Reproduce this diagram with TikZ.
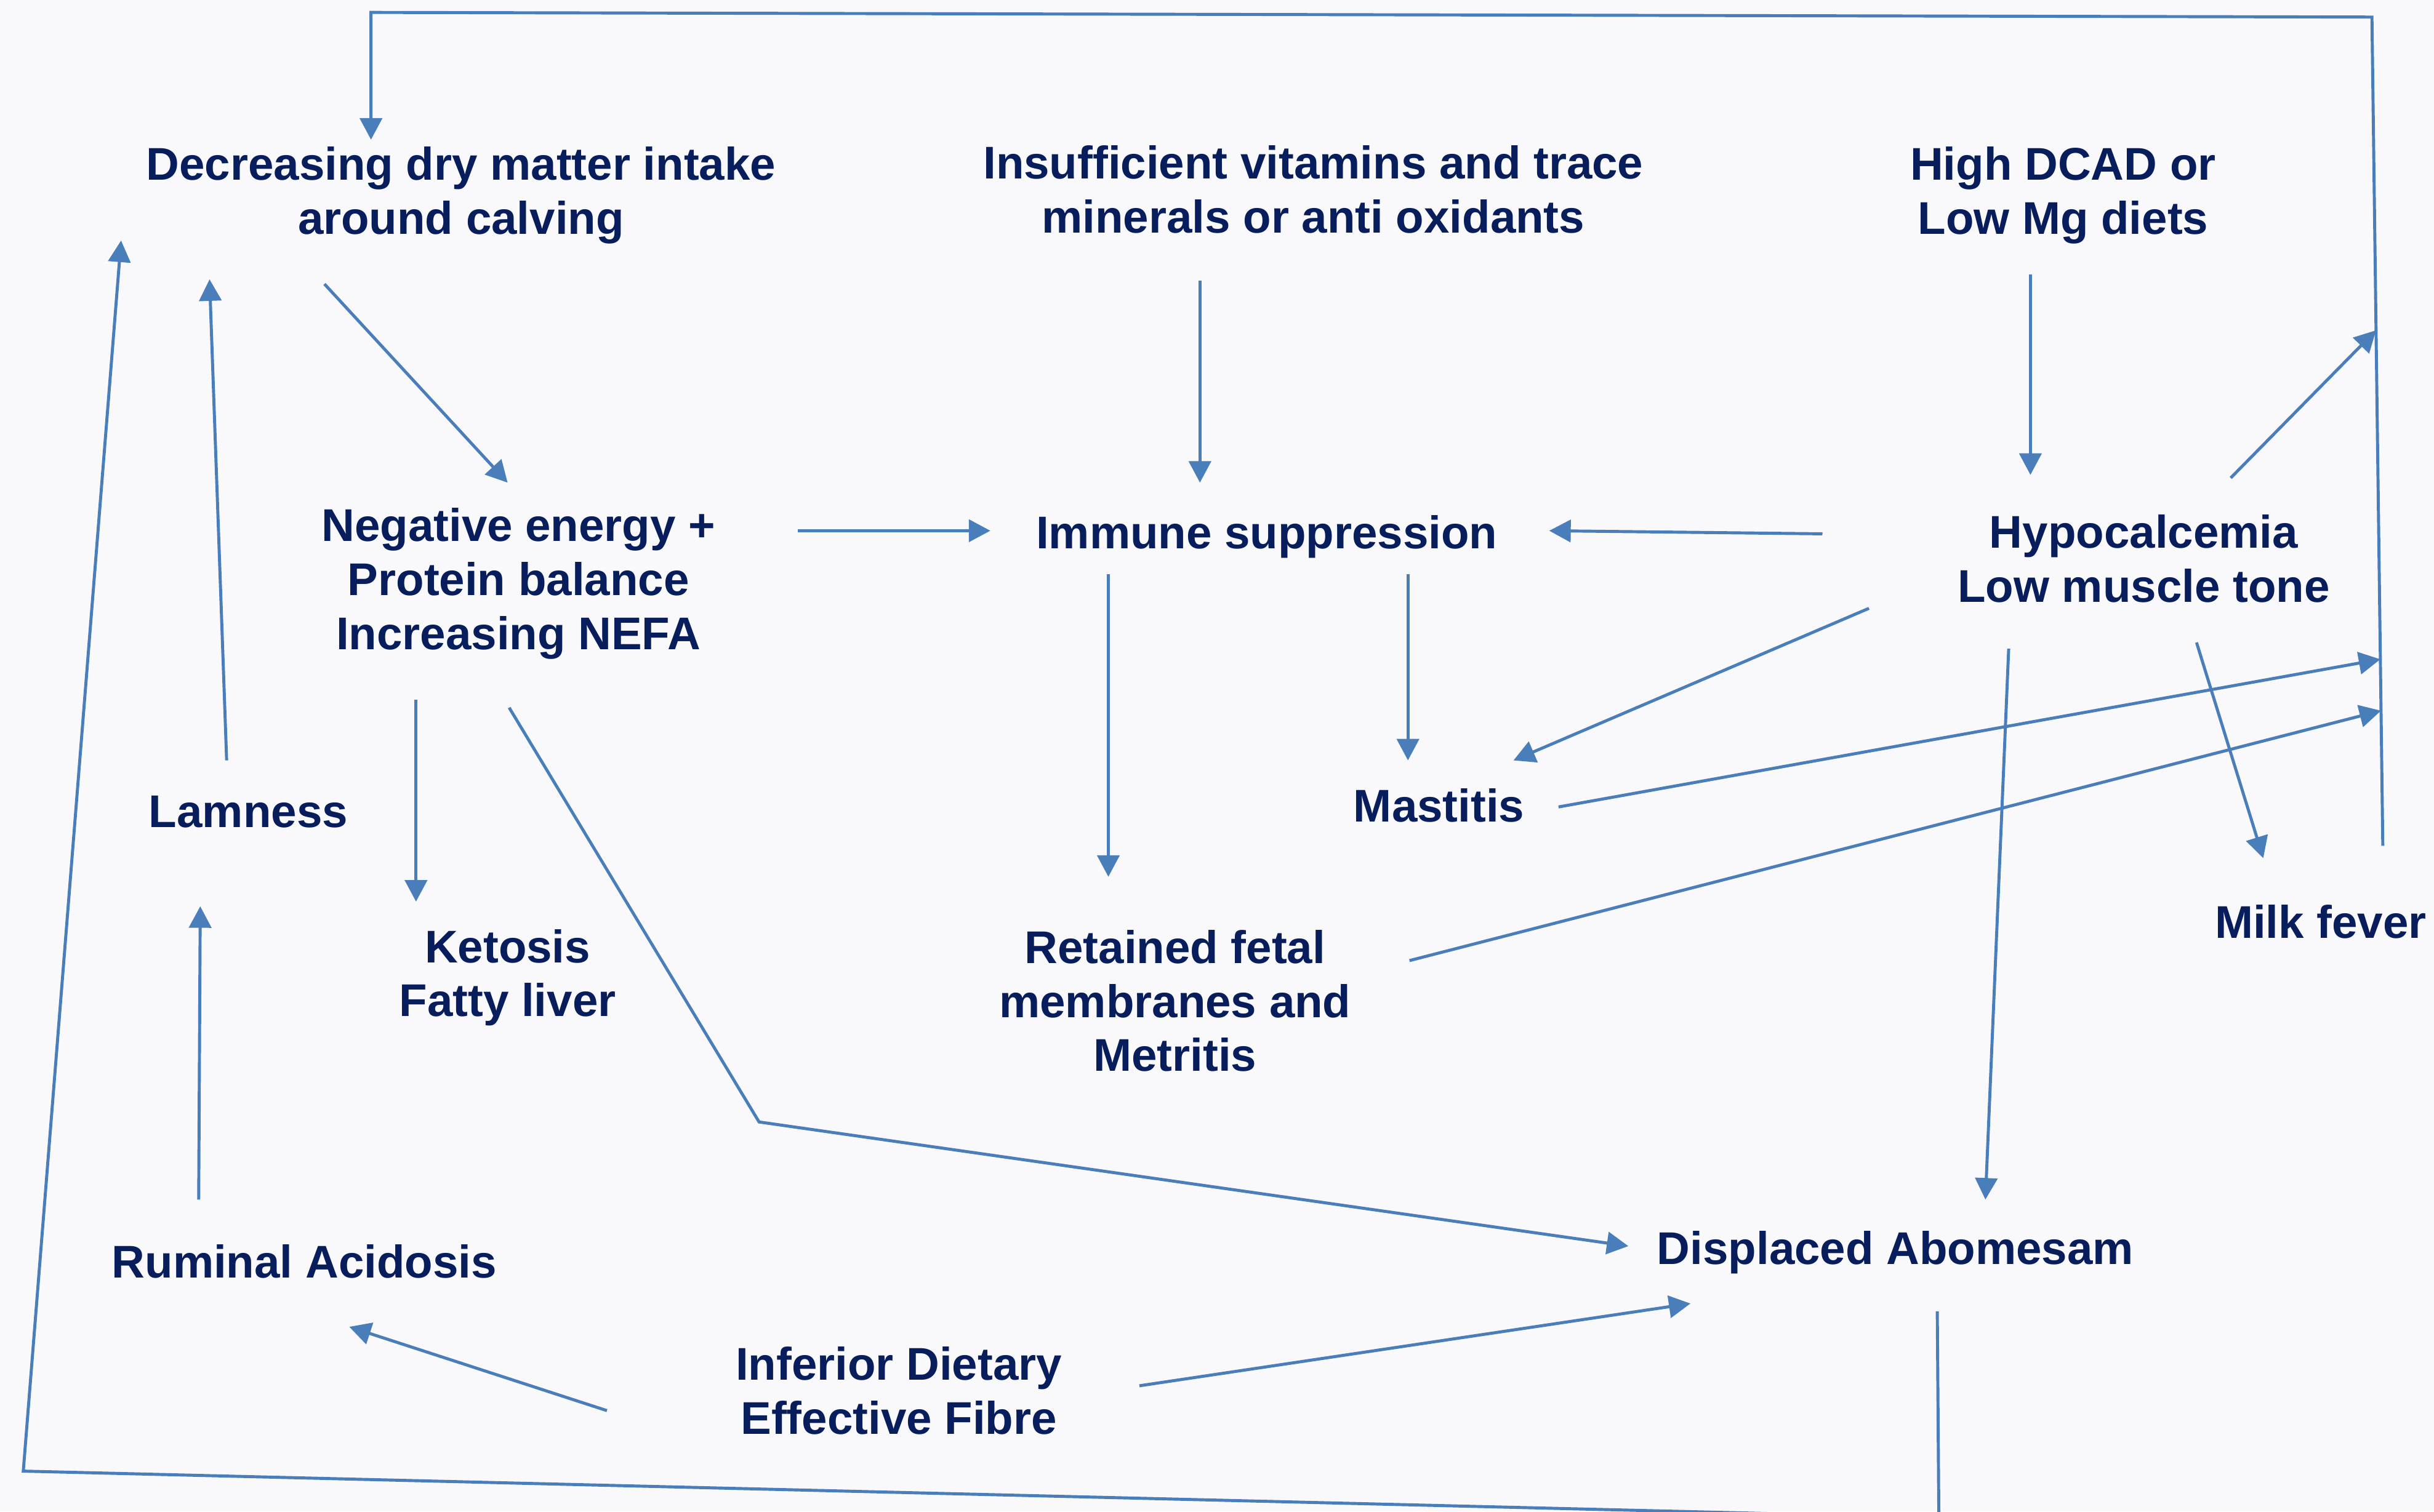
\documentclass[tikz,border=0pt]{standalone}
\usepackage{fontspec}
\setmainfont{Liberation Sans}
\usetikzlibrary{calc,arrows.meta}
\definecolor{linkblue}{HTML}{4A7EBB}
\definecolor{termnavy}{HTML}{071D5C}
\definecolor{pagebg}{HTML}{F9F9FB}

\begin{document}
\begin{tikzpicture}[x=0.025217cm,y=-0.025217cm,
  term/.style={text=termnavy,font=\fontsize{21.2}{25}\selectfont\bfseries,align=center,inner sep=0pt},
  link/.style={linkblue,line width=1.4pt,-{Triangle[length=0.35cm,width=0.36cm]}}]
\useasboundingbox (0,0) rectangle (1568,974);
\clip (0,0) rectangle (1568,974);
\fill[pagebg] (0,0) rectangle (1568,974);

% causes
\node[term] (dec) at (297,126) {Decreasing dry matter intake\\around calving};
\node[term] (vit) at (846,122) {Insufficient vitamins and trace\\minerals or anti oxidants};
\node[term] (dcad) at (1329,126) {High DCAD or\\Low Mg diets};
\node[term] (neg) at (334,376) {Negative energy +\\Protein balance\\Increasing NEFA};
\node[term] (imm) at (816,346) {Immune suppression};
\node[term] (hypo) at (1381,360) {Hypocalcemia\\Low muscle tone};
\node[term] (fib) at (579,896) {Inferior Dietary\\Effective Fibre};

% disorders
\node[term] (lam) at (160,523) {Lamness};
\node[term] (mast) at (927,519) {Mastitis};
\node[term] (ket) at (327,630) {Ketosis\\Fatty liver};
\node[term] (ret) at (757,645) {Retained fetal\\membranes and\\Metritis};
\node[term] (milk) at (1495,594) {Milk fever};
\node[term] (rum) at (196,813) {Ruminal Acidosis};
\node[term] (disp) at (1221,807) {Displaced Abomesam};

% corners of the loop lines
\coordinate (ltop) at (239,8);
\coordinate (rtop) at (1528,11);
\coordinate (rbot) at (1535,545);
\coordinate (bend) at (489,723);
\coordinate (bcorner) at (1249,978);
\coordinate (bleft) at (15,948);

% top loop back to dry matter intake
\draw[link] (rbot) -- (rtop) -- (ltop) -- ($(dec)+(-58,-36)$);
\draw[link] ($(hypo)+(56,-52)$) -- ($(rtop)!0.378!(rbot)$);
\draw[link] ($(mast)+(77,1)$) -- ($(rtop)!0.775!(rbot)$);
\draw[link] ($(ret)+(151,-26)$) -- ($(rtop)!0.837!(rbot)$);

% bottom loop back to dry matter intake
\draw[link] ($(disp)+(27,38)$) -- (bcorner) -- (bleft) -- ($(dec)+(-219,29)$);

% arrows
\draw[link] ($(dec)+(-88,57)$) -- ($(neg)+(-7,-65)$);
\draw[link] ($(vit)+(-73,59)$) -- ($(imm)+(-43,-35)$);
\draw[link] ($(dcad)+(-21,51)$) -- ($(hypo)+(-73,-54)$);
\draw[link] ($(neg)+(180,-34)$) -- ($(imm)+(-178,-4)$);
\draw[link] ($(hypo)+(-207,-16)$) -- ($(imm)+(182,-4)$);
\draw[link] ($(imm)+(-102,24)$) -- ($(ret)+(-43,-80)$);
\draw[link] ($(imm)+(91,24)$) -- ($(mast)+(-20,-29)$);
\draw[link] ($(hypo)+(-177,32)$) -- ($(mast)+(48,-29)$);
\draw[link] ($(hypo)+(34,54)$) -- ($(milk)+(-37,-41)$);
\draw[link] ($(hypo)+(-87,58)$) -- ($(disp)+(58,-34)$);
\draw[link] ($(neg)+(-66,75)$) -- ($(ket)+(-59,-49)$);
\draw[link] ($(neg)+(-6,80)$) -- (bend) -- ($(disp)+(-172,-4)$);
\draw[link] ($(lam)+(-14,-33)$) -- ($(dec)+(-162,54)$);
\draw[link] ($(rum)+(-68,-40)$) -- ($(lam)+(-31,61)$);
\draw[link] ($(fib)+(-188,13)$) -- ($(rum)+(29,42)$);
\draw[link] ($(fib)+(155,-3)$) -- ($(disp)+(-132,33)$);
\end{tikzpicture}
\end{document}
